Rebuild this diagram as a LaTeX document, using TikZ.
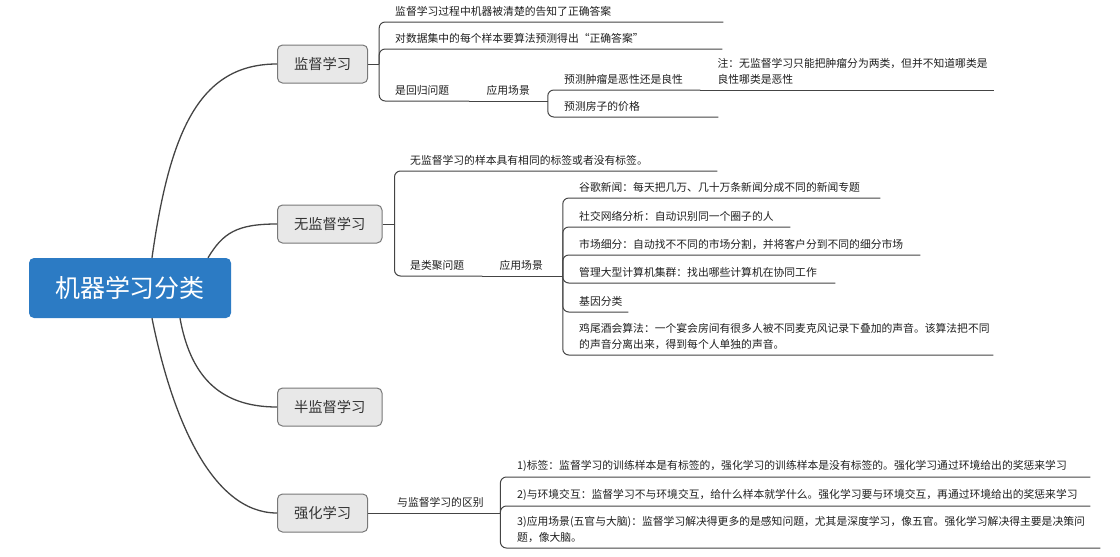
\documentclass[tikz,border=0pt]{standalone}
\usepackage{fontspec}
\setmainfont{Noto Sans CJK SC}
\usetikzlibrary{positioning}
\definecolor{rootblue}{RGB}{44,123,196}
\definecolor{topicgray}{RGB}{232,232,232}
\definecolor{framegray}{RGB}{120,120,120}
\definecolor{linegray}{RGB}{68,68,68}
\definecolor{inkgray}{RGB}{30,30,30}

\begin{document}
\begin{tikzpicture}[x=1pt,y=-1pt,
  root node/.style={rectangle,rounded corners=5pt,fill=rootblue,text=white,font=\fontsize{25}{30}\selectfont,minimum width=202pt,minimum height=60pt},
  main node/.style={rectangle,rounded corners=5pt,draw=framegray,fill=topicgray,text=black!80,line width=1pt,font=\fontsize{14.3}{17}\selectfont,minimum height=38pt,inner xsep=16.5pt,anchor=west},
  topic/.style={anchor=south west,align=left,text width=#1,inner xsep=17pt,inner ysep=5pt,text=inkgray,font=\fontsize{10.8}{16}\selectfont},
  branch/.style={draw=linegray,line width=1.3pt},
  uline/.style={draw=linegray,line width=1pt},
  elbow/.style={uline,rounded corners=6pt}]

  \useasboundingbox (0,0) rectangle (1120,557);

  \node[root node] (root) at (130,288) {机器学习分类};
  \node[main node] (sup) at (277,64) {监督学习};
  \node[main node] (uns) at (277,224) {无监督学习};
  \node[main node] (semi) at (277,407) {半监督学习};
  \node[main node] (rl) at (277,513) {强化学习};

  % supervised
  \node[topic=311pt] (s1) at (378,22) {监督学习过程中机器被清楚的告知了正确答案};
  \node[topic=310pt] (s2) at (378,49) {对数据集中的每个样本要算法预测得出“正确答案”};
  \node[topic=57pt] (s3) at (378,101) {是回归问题};
  \node[topic=44pt, right=0pt of s3] (s3a) {应用场景};
  \node[topic=119pt] (s3a1) at (547,90) {预测肿瘤是恶性还是良性};
  \node[topic=259pt] (n1) at (s3a1.south east) {注：无监督学习只能把肿瘤分为两类，但并不知道哪类是\\良性哪类是恶性};
  \node[topic=137pt] (s3a2) at (547,117) {预测房子的价格};

  % unsupervised
  \node[topic=290pt] (u1) at (393,171) {无监督学习的样本具有相同的标签或者没有标签。};
  \node[topic=55pt] (u2) at (393,276) {是类聚问题};
  \node[topic=46pt, right=0pt of u2] (u2a) {应用场景};
  \node[topic=284pt] (c1) at (562,198) {谷歌新闻：每天把几万、几十万条新闻分成不同的新闻专题};
  \node[topic=194pt] (c2) at (562,227) {社交网络分析：自动识别同一个圈子的人};
  \node[topic=324pt] (c3) at (562,255) {市场细分：自动找不不同的市场分割，并将客户分到不同的细分市场};
  \node[topic=239pt] (c4) at (562,283) {管理大型计算机集群：找出哪些计算机在协同工作};
  \node[topic=32pt] (c5) at (562,312) {基因分类};
  \node[topic=397pt] (c6) at (562,355) {鸡尾酒会算法：一个宴会房间有很多人被不同麦克风记录下叠加的声音。该算法把不同\\的声音分离出来，得到每个人单独的声音。};

  % reinforcement
  \node[topic=86pt] (r0) at (380,513) {与监督学习的区别};
  \node[topic=556pt] (r1) at (500,477) {1)标签：监督学习的训练样本是有标签的，强化学习的训练样本是没有标签的。强化学习通过环境给出的奖惩来学习};
  \node[topic=556pt] (r2) at (500,506) {2)与环境交互：监督学习不与环境交互，给什么样本就学什么。强化学习要与环境交互，再通过环境给出的奖惩来学习};
  \node[topic=566pt] (r3) at (500,548) {3)应用场景(五官与大脑)：监督学习解决得更多的是感知问题，尤其是深度学习，像五官。强化学习解决得主要是决策问\\题，像大脑。};

  % main curves
  \draw[branch] ([xshift=22pt]root.north) .. controls +(18,-128) and +(-77,0) .. (sup.west);
  \draw[branch] ([xshift=78pt]root.north) .. controls +(15,-25) and +(-40,0) .. (uns.west);
  \draw[branch] ([xshift=50pt]root.south) .. controls +(10,55) and +(-60,0) .. (semi.west);
  \draw[branch] ([xshift=22pt]root.south) .. controls +(20,100) and +(-65,0) .. (rl.west);

  \coordinate[right=11pt of sup] (supj);
  \coordinate[right=12pt of uns] (unsj);

  \path[uline] (sup) edge (supj)
               (uns) edge (unsj)
               (rl) edge (r0.south west);

  \foreach \n in {s1,s2,s3} \draw[elbow] (supj) |- (\n.south east);
  \foreach \n in {s3a1,s3a2} \draw[elbow] (s3a.south east) |- (\n.south east);
  \foreach \n in {u1,u2} \draw[elbow] (unsj) |- (\n.south east);
  \foreach \n in {c1,c2,c3,c4,c5,c6} \draw[elbow] (u2a.south east) |- (\n.south east);
  \foreach \n in {r1,r2,r3} \draw[elbow] (r0.south east) |- (\n.south east);

  \foreach \n in {s3a,n1,u2a,r0} \draw[uline] (\n.south west) -- (\n.south east);
\end{tikzpicture}
\end{document}
